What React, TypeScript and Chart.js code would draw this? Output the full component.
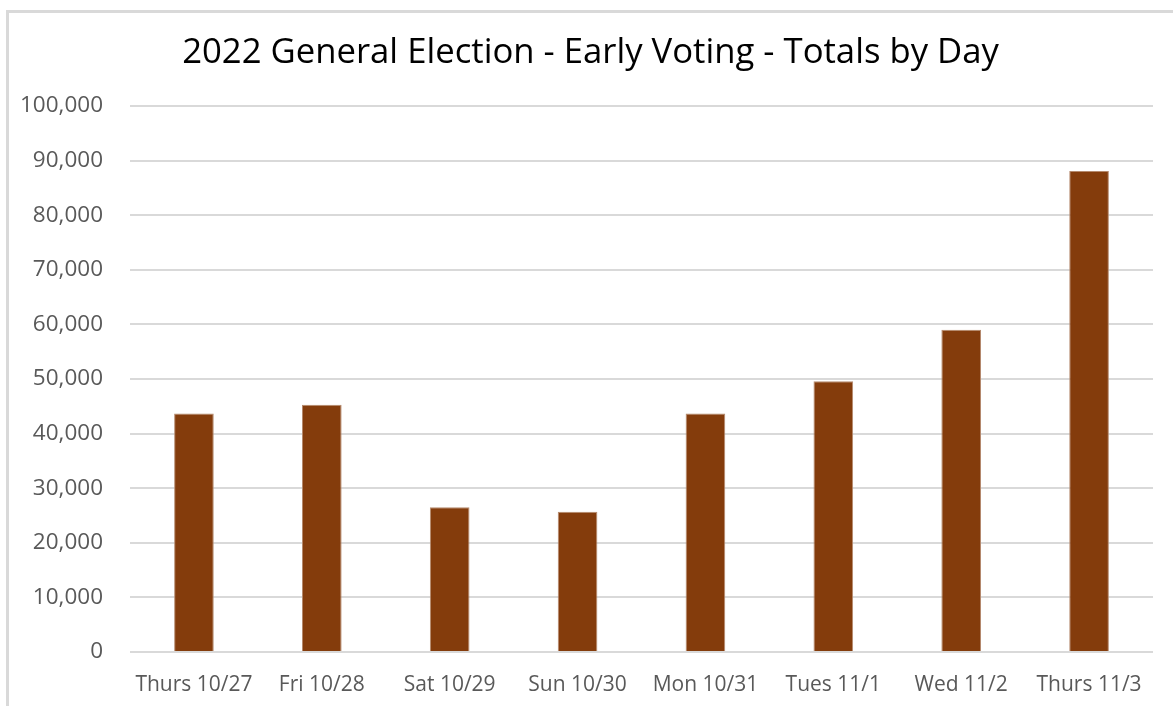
import React, { useEffect, useRef } from "react";
import { Chart, registerables } from "chart.js";

Chart.register(...registerables);

const days: string[] = [
  "Thurs 10/27",
  "Fri 10/28",
  "Sat 10/29",
  "Sun 10/30",
  "Mon 10/31",
  "Tues 11/1",
  "Wed 11/2",
  "Thurs 11/3",
];

const totals: number[] = [43700, 45300, 26500, 25700, 43700, 49600, 59000, 88100];

const yMin = 0;
const yMax = 100000;
const yStep = 10000;

const titleText = "2022 General Election - Early Voting - Totals by Day";

// Chart heading, centred a little right of the canvas middle, above the plot
const headingPlugin = {
  id: "heading",
  afterDraw(chart: any) {
    const ctx = chart.ctx;
    ctx.save();
    ctx.font = "normal 34.7px 'Open Sans', sans-serif";
    ctx.fillStyle = "#000000";
    ctx.textAlign = "center";
    ctx.textBaseline = "middle";
    ctx.fillText(titleText, 590.5, 53);
    ctx.restore();
  },
};

export default function App() {
  const canvasRef = useRef<HTMLCanvasElement | null>(null);

  useEffect(() => {
    const prevMargin = document.body.style.margin;
    document.body.style.margin = "0";
    const canvas = canvasRef.current;
    if (!canvas) return;
    const chart = new Chart(canvas, {
      type: "bar",
      data: {
        labels: days,
        datasets: [
          {
            label: "Total",
            data: totals,
            backgroundColor: "#843c0c",
            borderColor: "#b58a6e",
            borderWidth: { left: 1, right: 1, top: 1, bottom: 0 },
            barPercentage: 0.31,
            categoryPercentage: 1,
          },
        ],
      },
      options: {
        responsive: false,
        animation: false,
        maintainAspectRatio: false,
        layout: { padding: { left: 0, right: 20, top: 106, bottom: 0 } },
        plugins: {
          legend: { display: false },
          tooltip: { enabled: false },
          title: { display: false },
        },
        scales: {
          x: {
            grid: { display: false, drawTicks: false },
            border: { display: false },
            ticks: {
              color: "#595959",
              font: { family: "'Open Sans', sans-serif", size: 21 },
              padding: 20,
              maxRotation: 0,
              autoSkip: false,
            },
            afterFit: (scale: any) => {
              scale.height = 54;
            },
          },
          y: {
            min: yMin,
            max: yMax,
            grid: { color: "#d9d9d9", lineWidth: 2, drawTicks: false },
            border: { display: false },
            ticks: {
              stepSize: yStep,
              color: "#595959",
              font: { family: "'Open Sans', sans-serif", size: 22.5 },
              padding: 27,
              callback: (v: any) => Number(v).toLocaleString("en-US"),
            },
            afterFit: (scale: any) => {
              scale.width = 130;
            },
          },
        },
      },
      plugins: [headingPlugin],
    });
    return () => {
      chart.destroy();
      document.body.style.margin = prevMargin;
    };
  }, []);

  return (
    <div style={{ position: "relative", width: 1173, height: 706, overflow: "hidden", background: "#ffffff" }}>
      <div
        style={{
          position: "absolute",
          left: 6,
          top: 10,
          width: 1200,
          height: 720,
          borderTop: "3px solid #d9d9d9",
          borderLeft: "3px solid #d9d9d9",
          boxSizing: "border-box",
        }}
      />
      <canvas
        ref={canvasRef}
        width={1173}
        height={706}
        style={{ position: "absolute", left: 0, top: 0, width: 1173, height: 706 }}
      />
    </div>
  );
}
